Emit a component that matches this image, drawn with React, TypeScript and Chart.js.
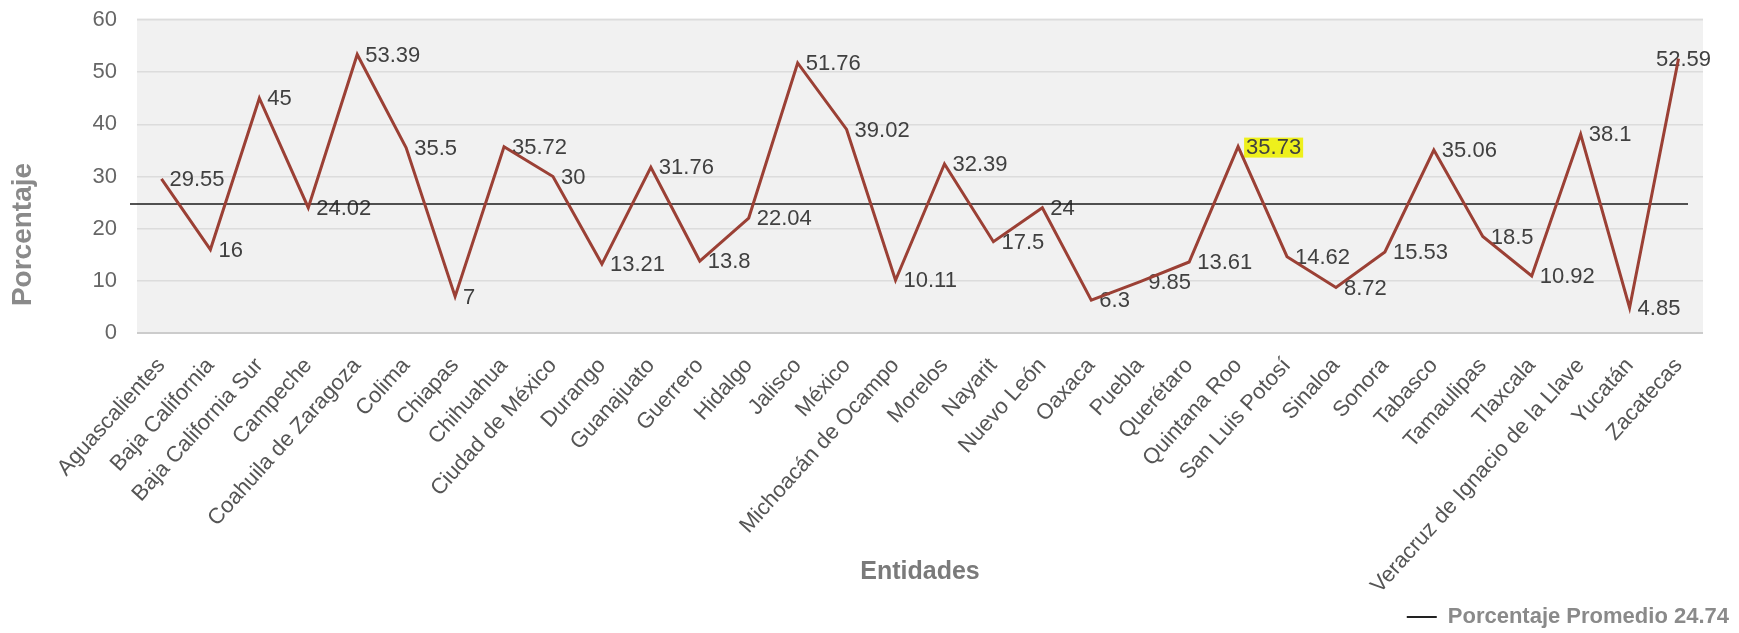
import React, { useEffect, useRef } from "react";
import { Chart, registerables } from "chart.js";

Chart.register(...registerables);

const entidades: string[] = [
  "Aguascalientes",
  "Baja California",
  "Baja California Sur",
  "Campeche",
  "Coahuila de Zaragoza",
  "Colima",
  "Chiapas",
  "Chihuahua",
  "Ciudad de México",
  "Durango",
  "Guanajuato",
  "Guerrero",
  "Hidalgo",
  "Jalisco",
  "México",
  "Michoacán de Ocampo",
  "Morelos",
  "Nayarit",
  "Nuevo León",
  "Oaxaca",
  "Puebla",
  "Querétaro",
  "Quintana Roo",
  "San Luis Potosí",
  "Sinaloa",
  "Sonora",
  "Tabasco",
  "Tamaulipas",
  "Tlaxcala",
  "Veracruz de Ignacio de la Llave",
  "Yucatán",
  "Zacatecas",
];

const porcentajes: number[] = [
  29.55, 16, 45, 24.02, 53.39, 35.5, 7, 35.72, 30, 13.21, 31.76, 13.8, 22.04,
  51.76, 39.02, 10.11, 32.39, 17.5, 24, 6.3, 9.85, 13.61, 35.73, 14.62, 8.72,
  15.53, 35.06, 18.5, 10.92, 38.1, 4.85, 52.59,
];

const promedio = 24.74;
const yTicks: number[] = [0, 10, 20, 30, 40, 50, 60];
const destacada = "Quintana Roo";
const tituloY = "Porcentaje";
const tituloX = "Entidades";
const leyenda = `Porcentaje Promedio ${promedio}`;

const FONT = "'Liberation Sans', Arial, Helvetica, sans-serif";
const PLOT_TOP = 20;
const PLOT_BOTTOM = 333;

export default function App() {
  const ref = useRef<HTMLCanvasElement>(null);

  useEffect(() => {
    const canvas = ref.current;
    if (!canvas) return;
    Chart.defaults.font.family = FONT;

    const bgPlugin = {
      id: "plotBg",
      beforeDraw(chart: any) {
        const { ctx, chartArea: a } = chart;
        ctx.save();
        ctx.fillStyle = "#f1f1f1";
        ctx.fillRect(a.left, a.top - 2, a.right - a.left, a.bottom - a.top + 2);
        ctx.restore();
      },
    };

    const overlayPlugin = {
      id: "overlay",
      beforeDatasetsDraw(chart: any) {
        const { ctx, chartArea: a } = chart;
        const meta = chart.getDatasetMeta(0);
        ctx.save();
        ctx.font = `22px ${FONT}`;
        ctx.textBaseline = "middle";
        ctx.textAlign = "left";
        meta.data.forEach((pt: any, i: number) => {
          const txt = String(porcentajes[i]);
          const w = ctx.measureText(txt).width;
          let x = pt.x + 8;
          const y = pt.y + 1;
          if (x + w > a.right + 8) x = a.right + 8 - w;
          if (entidades[i] === destacada) {
            ctx.fillStyle = "#eef01c";
            ctx.fillRect(x - 2, y - 10, w + 4, 20);
          }
          ctx.fillStyle = "#404040";
          ctx.fillText(txt, x, y);
        });
        // average line
        const yAvg = chart.scales.y.getPixelForValue(promedio);
        ctx.strokeStyle = "#1a1a1a";
        ctx.lineWidth = 1.5;
        ctx.beginPath();
        ctx.moveTo(a.left - 7, yAvg);
        ctx.lineTo(a.right - 15, yAvg);
        ctx.stroke();
        // y axis title
        ctx.translate(23, (a.top + a.bottom) / 2 + 58);
        ctx.rotate(-Math.PI / 2);
        ctx.font = `bold 28px ${FONT}`;
        ctx.fillStyle = "#8a8a8a";
        ctx.textAlign = "center";
        ctx.fillText(tituloY, 0, 0);
        ctx.restore();
      },
    };

    const chart = new Chart(canvas, {
      type: "line",
      data: {
        labels: entidades,
        datasets: [
          {
            label: tituloY,
            data: porcentajes,
            borderColor: "#9b4035",
            backgroundColor: "#9b4035",
            borderWidth: 3,
            pointRadius: 0,
            tension: 0,
          },
          {
            label: leyenda,
            data: [],
            borderColor: "#222222",
            backgroundColor: "#222222",
            borderWidth: 0,
            pointRadius: 0,
          },
        ],
      },
      options: {
        responsive: false,
        animation: false,
        devicePixelRatio: 1,
        layout: { padding: { top: PLOT_TOP, right: 0, left: 0, bottom: -5 } },
        plugins: {
          legend: {
            position: "bottom",
            align: "end",
            labels: {
              filter: (item: any) => item.datasetIndex === 1,
              boxWidth: 30,
              boxHeight: 2,
              padding: 10,
              color: "#8a8a8a",
              font: { size: 22, weight: "bold" },
            },
          },
          tooltip: { enabled: false },
        },
        scales: {
          x: {
            offset: true,
            grid: { display: false, drawTicks: false },
            border: { display: false },
            ticks: {
              autoSkip: false,
              maxRotation: 48,
              minRotation: 48,
              padding: 20,
              color: "#555555",
              font: { size: 22 },
            },
            title: {
              display: true,
              text: tituloX,
              color: "#7a7a7a",
              font: { size: 25, weight: "bold" },
              padding: { top: 0, bottom: 9 },
            },
            afterFit: (s: any) => {
              const lh = s.chart.legend ? s.chart.legend.height : 42;
              s.height = s.chart.height + 5 - PLOT_BOTTOM - lh;
            },
          },
          y: {
            min: yTicks[0],
            max: yTicks[yTicks.length - 1],
            afterBuildTicks: (s: any) => {
              s.ticks = yTicks.map((v) => ({ value: v }));
            },
            ticks: {
              padding: 20,
              color: "#666666",
              font: { size: 22 },
            },
            grid: {
              drawTicks: false,
              color: (c: any) => (c.tick && c.tick.value === 0 ? "#cccccc" : "#dcdcdc"),
              lineWidth: (c: any) => (c.tick && c.tick.value === 0 ? 2 : 1.5),
            },
            border: { display: false },
            afterFit: (s: any) => {
              s.width = 137;
              s.paddingTop = 0;
              s.paddingBottom = 0;
            },
          },
          yDerecha: {
            position: "right",
            display: true,
            min: 0,
            max: 1,
            ticks: { display: false },
            grid: { display: false, drawTicks: false },
            border: { display: false },
            afterFit: (s: any) => {
              s.width = 36;
              s.paddingTop = 0;
              s.paddingBottom = 0;
            },
          },
        },
      },
      plugins: [bgPlugin, overlayPlugin],
    } as any);

    return () => chart.destroy();
  }, []);

  return (
    <div style={{ position: "absolute", left: 0, top: 0, width: 1739, height: 633, background: "#fff" }}>
      <canvas ref={ref} width={1739} height={633} style={{ display: "block" }} />
    </div>
  );
}
